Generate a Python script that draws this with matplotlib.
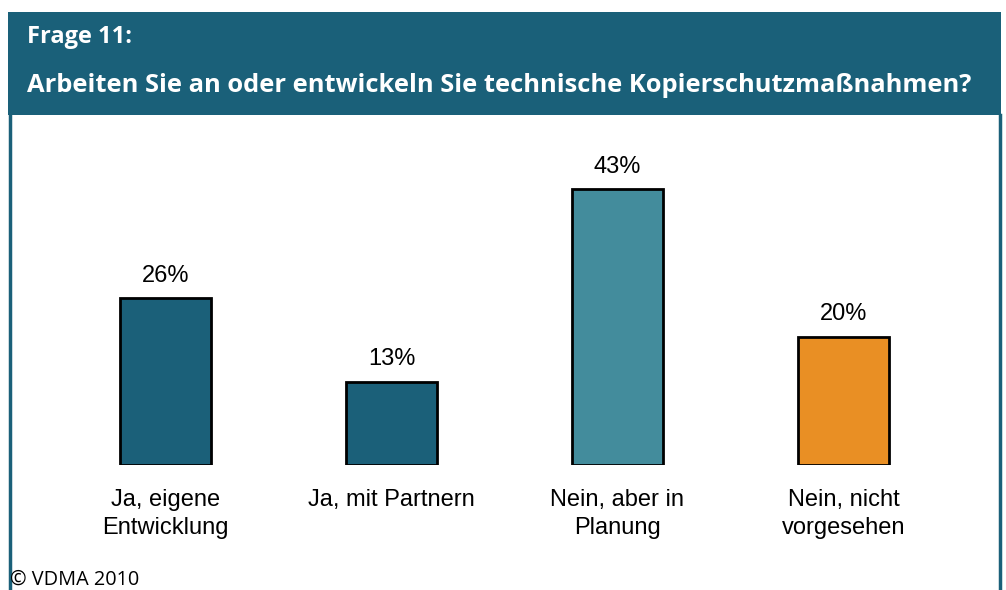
import matplotlib
matplotlib.use('Agg')
import matplotlib.pyplot as plt
from matplotlib.patches import Rectangle
from matplotlib.lines import Line2D

categories = ['Ja, eigene\nEntwicklung', 'Ja, mit Partnern', 'Nein, aber in\nPlanung', 'Nein, nicht\nvorgesehen']
values = [26, 13, 43, 20]
bar_colors = ['#1b6079', '#1b6079', '#438c9c', '#e98f24']

header_color = '#1a6079'
W, H = 1006, 590

fig = plt.figure(figsize=(W / 100, H / 100), dpi=100)
fig.patch.set_facecolor('white')


def px(x0, y0, x1, y1):
    # pixel box (top-left origin) -> figure fraction [left, bottom, width, height]
    return [x0 / W, 1 - y1 / H, (x1 - x0) / W, (y1 - y0) / H]


# header band and frame
l, b, w, h = px(8, 12, 1001, 115)
fig.patches.append(Rectangle((l, b), w, h, transform=fig.transFigure, facecolor=header_color, edgecolor='none'))
for x in (9.5, 999.5):
    fig.lines.append(Line2D([x / W, x / W], [1 - 115 / H, 1 - 588 / H], transform=fig.transFigure,
                            color=header_color, linewidth=2.5))

fig.text(27 / W, 1 - 37 / H, 'Frage 11:', color='white', fontsize=17, fontweight='bold',
         family='Open Sans', va='center', ha='left')
fig.text(27 / W, 1 - 86 / H, 'Arbeiten Sie an oder entwickeln Sie technische Kopierschutzmaßnahmen?',
         color='white', fontsize=18.35, fontweight='bold', family='Open Sans', va='center', ha='left')
fig.text(10 / W, 1 - 580 / H, '© VDMA 2010', color='black', fontsize=14.3, family='Open Sans',
         va='center', ha='left')

# bar chart
ax = fig.add_axes(px(52.5, 144, 956.5, 465))
bars = ax.bar(range(len(values)), values, width=0.4, color=bar_colors, edgecolor='black', linewidth=2)
ax.bar_label(bars, labels=[f'{v}%' for v in values], padding=8, fontsize=17, family='Liberation Sans')
ax.set_xlim(-0.5, 3.5)
ax.set_ylim(0, 50)
ax.set_xticks(range(len(values)))
ax.set_xticklabels(categories, fontsize=17, family='Liberation Sans', linespacing=1.4, va='top')
ax.tick_params(axis='x', length=0, pad=17)
ax.set_yticks([])
for s in ax.spines.values():
    s.set_visible(False)
ax.patch.set_alpha(0)

fig.savefig('out.png', dpi=100)
